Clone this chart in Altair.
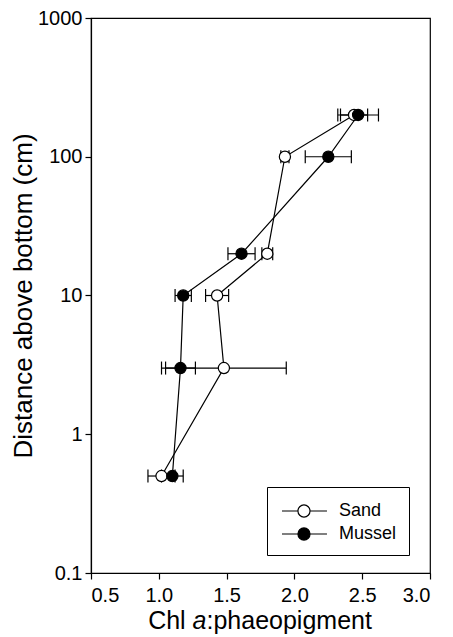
import altair as alt
import pandas as pd

# ---- data ----
depth = [0.5, 3, 10, 20, 100, 200]
sand_mean = [1.02, 1.48, 1.43, 1.80, 1.93, 2.44]
sand_err = [0.10, 0.46, 0.085, 0.04, 0.03, 0.10]
mussel_mean = [1.10, 1.16, 1.18, 1.61, 2.25, 2.47]
mussel_err = [0.08, 0.11, 0.06, 0.10, 0.17, 0.15]
series = ["Sand", "Mussel"]
x_ticks = [0.5, 1.0, 1.5, 2.0, 2.5, 3.0]
y_ticks = [0.1, 1, 10, 100, 1000]
x_title_parts = ["Chl ", "a", ":phaeopigment"]
y_title = "Distance above bottom (cm)"

rows = []
for name, means, errs in [("Sand", sand_mean, sand_err), ("Mussel", mussel_mean, mussel_err)]:
    for d, m, e in zip(depth, means, errs):
        rows.append({"series": name, "depth": d, "x": m, "lo": m - e, "hi": m + e})
df = pd.DataFrame(rows)

W, H = 339, 555
FONT = "Liberation Sans"
LBL = 20
TTL = 26

xscale = alt.Scale(domain=[0.5, 3.0], nice=False, zero=False)
yscale = alt.Scale(type="log", domain=[0.1, 1000], nice=False)
xaxis = alt.Axis(values=x_ticks, format=".1f", title=None, grid=False, labelPadding=6)
yaxis = alt.Axis(values=y_ticks, format="~g", title=y_title, grid=False,
                 titleFontSize=TTL, titleFont=FONT, titleFontWeight="normal",
                 titlePadding=1)

base = alt.Chart(df)
Y = alt.Y("depth:Q", scale=yscale, axis=yaxis)

lines = base.mark_line(color="black", strokeWidth=1.2).encode(
    x=alt.X("x:Q", scale=xscale, axis=xaxis), y=Y,
    detail="series:N", order="depth:Q")

rules = base.mark_rule(color="black", strokeWidth=1.2).encode(
    x=alt.X("lo:Q", scale=xscale, axis=xaxis), x2="hi:Q", y=Y)
cap_lo = base.mark_tick(orient="vertical", color="black", size=13, thickness=1.2, opacity=1).encode(
    x=alt.X("lo:Q", scale=xscale, axis=xaxis), y=Y)
cap_hi = base.mark_tick(orient="vertical", color="black", size=13, thickness=1.2, opacity=1).encode(
    x=alt.X("hi:Q", scale=xscale, axis=xaxis), y=Y)

# legend symbol: line with circle; layout box is 22px, drawing extends beyond it
sym = ("M-0.82,0L0.63,0M1.73,0L3.27,0M0.63,0A0.55,0.55,0,1,0,1.73,0"
       "A0.55,0.55,0,1,0,0.63,0Z")

points = base.mark_point(shape="circle", size=125, filled=True, stroke="black",
                         strokeWidth=1.2, opacity=1, fillOpacity=1).encode(
    x=alt.X("x:Q", scale=xscale, axis=xaxis), y=Y,
    fill=alt.Fill("series:N", scale=alt.Scale(domain=series, range=["white", "black"]),
                  sort=series,
                  legend=alt.Legend(title=None, orient="none", legendX=176, legendY=469,
                                    strokeColor="black", padding=12,
                                    symbolType=sym, symbolSize=484,
                                    symbolStrokeColor="black", symbolStrokeWidth=1.2,
                                    labelFontSize=18, labelFont=FONT, labelOffset=36,
                                    rowPadding=2, symbolOpacity=1)))

# x-axis title with italic "a"
F = 25
w_chl = 1.778 * F
w_a = 0.556 * F
w_rest = 6.615 * F
start = (260 - 91) - (w_chl + w_a + w_rest) / 2
ty = H + 56
t1 = alt.Chart(pd.DataFrame({"t": [x_title_parts[0]]})).mark_text(
    align="left", baseline="alphabetic", fontSize=F, font=FONT, color="black").encode(
    x=alt.value(start), y=alt.value(ty), text="t:N")
t2 = alt.Chart(pd.DataFrame({"t": [x_title_parts[1]]})).mark_text(
    align="left", baseline="alphabetic", fontSize=F, font=FONT, fontStyle="italic", color="black").encode(
    x=alt.value(start + w_chl), y=alt.value(ty), text="t:N")
t3 = alt.Chart(pd.DataFrame({"t": [x_title_parts[2]]})).mark_text(
    align="left", baseline="alphabetic", fontSize=F, font=FONT, color="black").encode(
    x=alt.value(start + w_chl + w_a), y=alt.value(ty), text="t:N")

chart = alt.layer(lines, rules, cap_lo, cap_hi, points, t1, t2, t3).properties(
    width=W, height=H,
    autosize=alt.AutoSizeParams(type="none"),
    padding={"left": 83, "top": 10, "right": 15, "bottom": 64},
    background="white",
).configure_view(stroke="black", strokeWidth=1.2).configure_axis(
    domainColor="black", domainWidth=1.2, tickColor="black", tickWidth=1.2,
    tickSize=6, labelColor="black", titleColor="black",
    labelFont=FONT, labelFontSize=LBL, labelPadding=3,
)

chart.save("out.html", embed_options={"renderer": "svg", "actions": False})
